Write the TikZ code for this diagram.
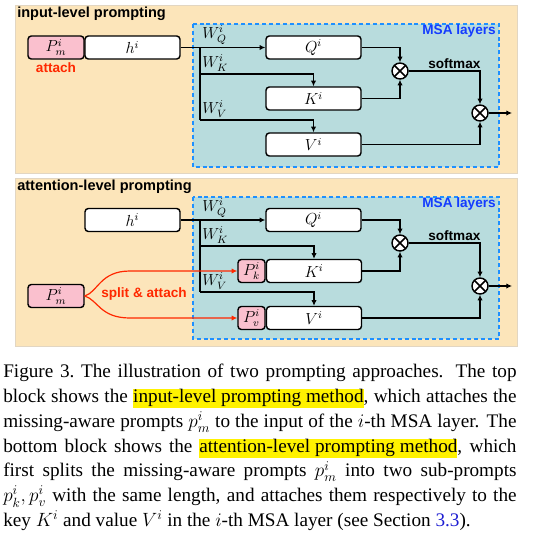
\documentclass[tikz,border=0pt]{standalone}
\usepackage{amsmath}
\usepackage{amssymb}
\usepackage{fontspec}
\setmainfont{Liberation Serif}
\setsansfont{Liberation Sans}
\usepackage{tikz}
\usetikzlibrary{arrows.meta}

\newcommand{\hilite}[1]{{\setlength{\fboxsep}{0pt}\colorbox{yellow}{\rule[-0.29em]{0pt}{0.915em}#1}}}

\begin{document}
\begin{tikzpicture}[x=0.75pt,y=0.75pt,yscale=-1,xscale=1,
    panel/.style={draw={rgb, 255:red, 226; green, 214; blue, 194}, fill={rgb, 255:red, 252; green, 229; blue, 186}, line width=0.6pt},
    msa/.style={draw={rgb, 255:red, 30; green, 144; blue, 255}, fill={rgb, 255:red, 184; green, 220; blue, 221}, dash pattern=on 3pt off 2.2pt, line width=1.3pt},
    blk/.style={draw, fill=white, line width=1.1pt, rounded corners=2.5pt, minimum width=71.25pt, minimum height=17.25pt, inner sep=0pt, font=\fontsize{11.5}{13}\selectfont},
    prm/.style={blk, fill={rgb, 255:red, 250; green, 192; blue, 206}},
    mul/.style={draw, circle, fill=white, line width=1.1pt, minimum size=12pt, inner sep=0pt, path picture={\draw[line width=1.1pt] (path picture bounding box.north west) -- (path picture bounding box.south east) (path picture bounding box.north east) -- (path picture bounding box.south west);}},
    ln/.style={line width=0.9pt},
    arr/.style={line width=0.9pt, -{Latex[length=4.2pt,width=4pt]}},
    redarr/.style={line width=0.9pt, draw={rgb, 255:red, 255; green, 40; blue, 0}, -{Latex[length=4.2pt,width=4pt]}},
    title/.style={font=\sffamily\bfseries\fontsize{10.9}{12}\selectfont, inner sep=0pt},
    lbl/.style={font=\sffamily\bfseries\fontsize{10.2}{12}\selectfont, inner sep=0pt},
    wlab/.style={inner sep=0pt, font=\fontsize{11.5}{13}\selectfont}
]
\useasboundingbox (0,0) rectangle (539,532);

%Shape: Rectangle (top block)
\draw[panel] (15,5) rectangle (517,173);
\draw[msa] (193,24) rectangle (499,167);
%Shape: Rectangle (bottom block)
\draw[panel] (15,178) rectangle (517,346);
\draw[msa] (193,197) rectangle (499,339);

% ---- input-level prompting ----
\node[title, anchor=base west] (titA) at (17,17) {input-level prompting};
\node[lbl, anchor=base east, text={rgb, 255:red, 20; green, 60; blue, 255}] (msaA) at (496,34) {MSA layers};

\node[prm, minimum width=42pt] (pmA) at (56,47.5) {$P_m^i$};
\node[blk] (hA) at (132.5,47.5) {$h^i$};
\node[lbl, text={rgb, 255:red, 255; green, 40; blue, 0}] (attA) at (56,67.5) {attach};

\node[blk] (qA) at (313.5,47.5) {$Q^i$};
\node[blk] (kA) at (313.5,98.5) {$K^i$};
\node[blk] (vA) at (313.5,144.5) {$V^i$};
\node[mul] (mulA1) at (400,71) {};
\node[mul] (mulA2) at (480,113) {};

\coordinate (splA) at (200,47.5);
\coordinate (wkA) at (200,74);
\coordinate (wvA) at (200,120);
\coordinate (outA) at (512,113);

% Text Node
\node[wlab, anchor=south west] (wqlA) at (202,45) {$W_Q^i$};
\node[wlab, anchor=south west] (wklA) at (202,72) {$W_K^i$};
\node[wlab, anchor=south west] (wvlA) at (202,118) {$W_V^i$};
\node[lbl, anchor=base west] (smA) at (428,68) {softmax};

%Straight Lines
\draw[arr] (hA.east) -- (qA.west);
\draw[ln] (splA) -- (wvA);
\draw[arr] (wkA) -| (kA.north);
\draw[arr] (wvA) -| (vA.north);
\draw[arr] (qA.east) -| (mulA1.north);
\draw[arr] (kA.east) -| (mulA1.south);
\draw[arr] (mulA1.east) -| (mulA2.north);
\draw[arr] (vA.east) -| (mulA2.south);
\draw[arr] (mulA2.east) -- (outA);

% ---- attention-level prompting ----
\node[title, anchor=base west] (titB) at (17,190) {attention-level prompting};
\node[lbl, anchor=base east, text={rgb, 255:red, 20; green, 60; blue, 255}] (msaB) at (496,207) {MSA layers};

\node[blk] (hB) at (132.5,220) {$h^i$};
\node[prm, minimum width=42pt] (pmB) at (56,296) {$P_m^i$};
\node[lbl, text={rgb, 255:red, 255; green, 40; blue, 0}] (splitB) at (144,294) {split \& attach};

\node[blk] (qB) at (313.5,220) {$Q^i$};
\node[blk] (kB) at (314,271) {$K^i$};
\node[blk] (vB) at (314,318) {$V^i$};
\node[prm, minimum width=20.25pt] (pkB) at (251.5,271) {$P_k^i$};
\node[prm, minimum width=20.25pt] (pvB) at (251.5,318) {$P_v^i$};
\node[mul] (mulB1) at (400,243) {};
\node[mul] (mulB2) at (480,286) {};

\coordinate (splB) at (200,220);
\coordinate (wkB) at (200,246);
\coordinate (wvB) at (200,292);
\coordinate (outB) at (512,286);

% Text Node
\node[wlab, anchor=south west] (wqlB) at (202,217.5) {$W_Q^i$};
\node[wlab, anchor=south west] (wklB) at (202,244) {$W_K^i$};
\node[wlab, anchor=south west] (wvlB) at (202,290) {$W_V^i$};
\node[lbl, anchor=base west] (smB) at (428,240) {softmax};

%Straight Lines
\draw[arr] (hB.east) -- (qB.west);
\draw[ln] (splB) -- (wvB);
\draw[arr] (wkB) -| (kB.north);
\draw[arr] (wvB) -| (vB.north);
\draw[arr] (qB.east) -| (mulB1.north);
\draw[arr] (kB.east) -| (mulB1.south);
\draw[arr] (mulB1.east) -| (mulB2.north);
\draw[arr] (vB.east) -| (mulB2.south);
\draw[arr] (mulB2.east) -- (outB);

%Curve Lines
\draw[redarr] (pmB.east) .. controls (98,292) and (100,271) .. (130,271) -- (pkB.west);
\draw[redarr] (pmB.east) .. controls (98,300) and (100,318) .. (130,318) -- (pvB.west);

% Text Node (caption)
\node[anchor=north west, inner sep=0pt, text width=385pt, align=justify, font=\fontsize{14.4}{18.6}\selectfont] (cap) at (3,364) {\hyphenpenalty=10000 \exhyphenpenalty=10000 \tolerance=9999
Figure 3.\ The illustration of two prompting approaches. The top\linebreak
block shows the \hilite{input-level prompting method}, which attaches the\linebreak
missing-aware prompts $p_m^i$ to the input of the $i$-th MSA layer. The\linebreak
bottom block shows the \hilite{attention-level prompting method}, which\linebreak
first splits the missing-aware prompts $p_m^i$ into two sub-prompts\linebreak
$p_k^i, p_v^i$ with the same length, and attaches them respectively to the\linebreak
key $K^i$ and value $V^i$ in the $i$-th MSA layer (see Section \textcolor[RGB]{30,30,210}{3.3}).};

\end{tikzpicture}
\end{document}
